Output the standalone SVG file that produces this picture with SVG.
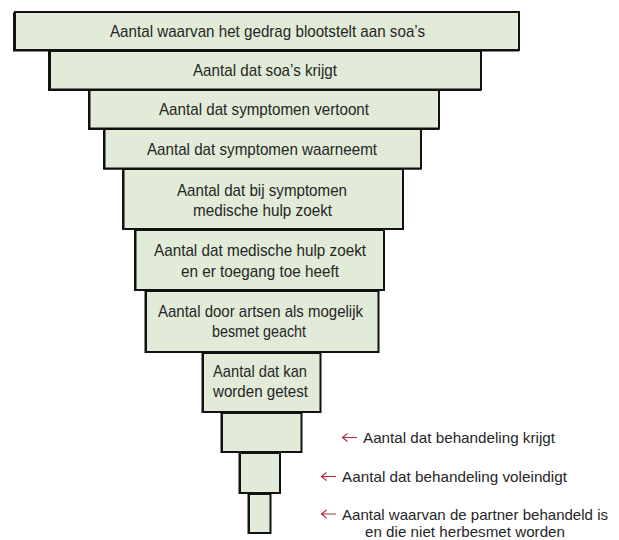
<svg xmlns="http://www.w3.org/2000/svg" width="619" height="540" viewBox="0 0 619 540">
<style>
.sh{fill:#111}
.bx{fill:#e1ebd7;stroke:#111;stroke-width:2}
.t{font-family:"Liberation Sans",Arial,sans-serif;font-size:17px;fill:#262626;text-anchor:middle}
.l{font-family:"Liberation Sans",Arial,sans-serif;font-size:15px;fill:#262626}
.ar{fill:none;stroke:#b03040;stroke-width:1.2}
</style>
<rect width="619" height="540" fill="#fff"/>
<g id="n1"><rect class="sh" x="13" y="12.5" width="506" height="39"/><rect class="bx" x="15" y="12" width="504" height="38"/><text class="t" x="267.5" y="36.5" textLength="315" lengthAdjust="spacingAndGlyphs">Aantal waarvan het gedrag blootstelt aan soa’s</text></g>
<g id="n2"><rect class="sh" x="48" y="51" width="433" height="40"/><rect class="bx" x="50" y="51" width="431" height="38.5"/><text class="t" x="265" y="76" textLength="144" lengthAdjust="spacingAndGlyphs">Aantal dat soa’s krijgt</text></g>
<g id="n3"><rect class="sh" x="88" y="90" width="351" height="40"/><rect class="bx" x="89.5" y="90" width="349.5" height="38.5"/><text class="t" x="264" y="115" textLength="210" lengthAdjust="spacingAndGlyphs">Aantal dat symptomen vertoont</text></g>
<g id="n4"><rect class="sh" x="103" y="129" width="318" height="40.5"/><rect class="bx" x="104.5" y="129" width="316.5" height="39.5"/><text class="t" x="262" y="154.5" textLength="230" lengthAdjust="spacingAndGlyphs">Aantal dat symptomen waarneemt</text></g>
<g id="n5"><rect class="sh" x="122" y="169" width="281" height="61"/><rect class="bx" x="123.5" y="169" width="279.5" height="60"/><text class="t" x="262" y="196" textLength="170" lengthAdjust="spacingAndGlyphs">Aantal dat bij symptomen</text><text class="t" x="262.5" y="216" textLength="139" lengthAdjust="spacingAndGlyphs">medische hulp zoekt</text></g>
<g id="n6"><rect class="sh" x="134" y="230" width="250" height="61"/><rect class="bx" x="135.5" y="230" width="248.5" height="60"/><text class="t" x="260" y="256" textLength="212" lengthAdjust="spacingAndGlyphs">Aantal dat medische hulp zoekt</text><text class="t" x="260" y="276.5" textLength="158" lengthAdjust="spacingAndGlyphs">en er toegang toe heeft</text></g>
<g id="n7"><rect class="sh" x="144.5" y="291" width="234" height="62"/><rect class="bx" x="146" y="291" width="232.5" height="61"/><text class="t" x="260.5" y="317" textLength="205" lengthAdjust="spacingAndGlyphs">Aantal door artsen als mogelijk</text><text class="t" x="259" y="337" textLength="94" lengthAdjust="spacingAndGlyphs">besmet geacht</text></g>
<g id="n8"><rect class="sh" x="201.5" y="353" width="119" height="60"/><rect class="bx" x="203" y="353" width="117.5" height="59"/><text class="t" x="260" y="377" textLength="94" lengthAdjust="spacingAndGlyphs">Aantal dat kan</text><text class="t" x="260.5" y="397" textLength="95" lengthAdjust="spacingAndGlyphs">worden getest</text></g>
<g id="n9"><rect class="sh" x="220.5" y="413" width="81" height="40"/><rect class="bx" x="222" y="413" width="79.5" height="39"/></g>
<g id="n10"><rect class="sh" x="238.5" y="453" width="41.5" height="41"/><rect class="bx" x="240" y="453" width="40" height="40"/></g>
<g id="n11"><rect class="sh" x="247.5" y="494" width="23" height="40"/><rect class="bx" x="249" y="494" width="21.5" height="39"/></g>
<g id="connectors">
<path class="ar" d="M357 437.5H342.5M347.5 433.5L342.5 437.5L347.5 441.5"/>
<path class="ar" d="M336 476.5H321.5M326.5 472.5L321.5 476.5L326.5 480.5"/>
<path class="ar" d="M336 514H321.5M326.5 510L321.5 514L326.5 518"/>
</g>
<g id="labels">
<text class="l" x="363" y="443" textLength="192" lengthAdjust="spacingAndGlyphs">Aantal dat behandeling krijgt</text>
<text class="l" x="342" y="482" textLength="225" lengthAdjust="spacingAndGlyphs">Aantal dat behandeling voleindigt</text>
<text class="l" x="342" y="519.5" textLength="266" lengthAdjust="spacingAndGlyphs">Aantal waarvan de partner behandeld is</text>
<text class="l" x="365" y="537" textLength="200" lengthAdjust="spacingAndGlyphs">en die niet herbesmet worden</text>
</g>
</svg>
